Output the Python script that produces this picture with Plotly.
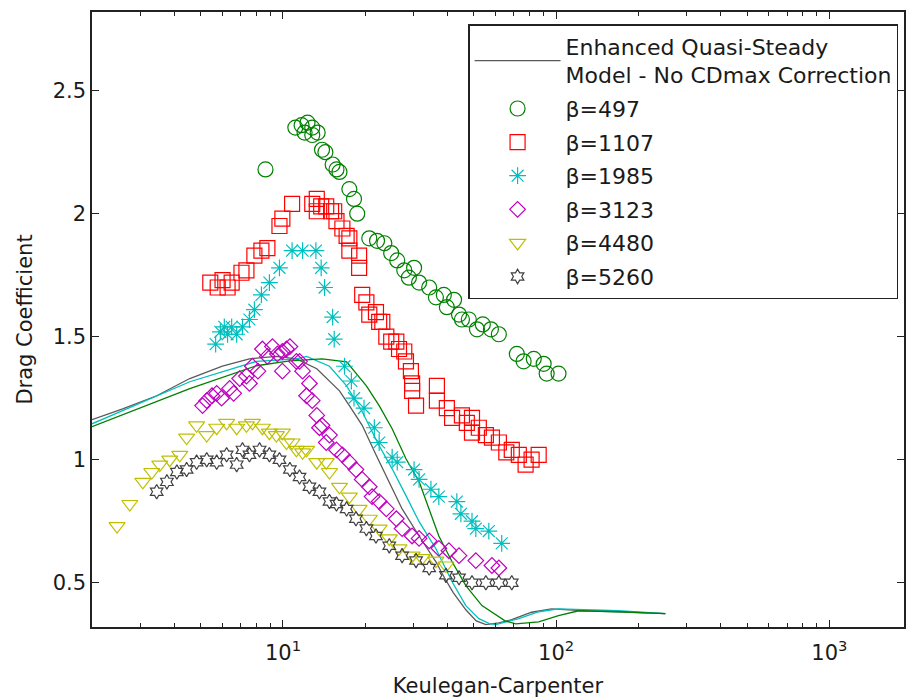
import plotly.graph_objects as go
import math

# ---------------- data ----------------
# Model curves (Enhanced Quasi-Steady model) - three variants
model_gray_x = [2.0, 2.59, 3.45, 4.56, 6.0, 7.54, 9.46, 11.2, 13.3, 14.8, 16.1, 17.5, 19.5, 21.9, 24.5,
                27.3, 31.5, 36.3, 39.0, 42.0, 46.7, 51.0, 55.3, 61.7, 68.8, 81.3, 96.3, 128, 169, 251]
model_gray_y = [1.163, 1.207, 1.26, 1.33, 1.38, 1.41, 1.42, 1.41, 1.37, 1.32, 1.28, 1.22, 1.14, 1.02, 0.91,
                0.80, 0.69, 0.585, 0.52, 0.46, 0.39, 0.345, 0.33, 0.337, 0.35, 0.38, 0.394, 0.386, 0.382, 0.374]

model_cyan_x = [2.0, 4.56, 8.0, 11.2, 12.2, 14.8, 17.1, 19.5, 22.5, 25.1, 28.2, 31.5, 36.3, 41.6, 46.7,
                52.1, 56.7, 60.1, 73.0, 86.3, 102, 169, 251]
model_cyan_y = [1.146, 1.317, 1.40, 1.41, 1.42, 1.38, 1.30, 1.195, 1.057, 0.963, 0.854, 0.748, 0.638, 0.504, 0.407,
                0.354, 0.335, 0.33, 0.354, 0.382, 0.394, 0.386, 0.374]

model_green_x = [2.0, 4.56, 8.0, 10.6, 13.9, 17.1, 20.2, 22.5, 25.1, 28.2, 31.5, 34.3, 37.2, 41.6, 46.7,
                 53.5, 58.2, 65.0, 71.1, 86.3, 102, 121, 169, 251]
model_green_y = [1.134, 1.289, 1.382, 1.402, 1.41, 1.398, 1.30, 1.22, 1.126, 1.004, 0.911, 0.80, 0.69, 0.585, 0.488,
                 0.407, 0.38, 0.345, 0.333, 0.341, 0.366, 0.386, 0.382, 0.374]

# beta = 497
b497_kc = [8.63, 11.1, 11.7, 12.3, 12.8, 13.4, 12.0, 12.8, 13.9, 14.3, 15.2, 15.7, 16.1, 17.5, 18.2, 18.7,
           20.7, 22.1, 23.5, 24.9, 26.2, 27.8, 28.9, 30.2, 31.5, 34.3, 36.3, 38.8, 39.8, 42.3, 44.1, 45.2,
           47.9, 51.3, 53.9, 57.7, 61.7, 71.8, 76.0, 82.8, 90.0, 92.3, 102]
b497_cd = [2.18, 2.35, 2.36, 2.37, 2.35, 2.33, 2.33, 2.32, 2.26, 2.25, 2.20, 2.18, 2.17, 2.10, 2.06, 2.00,
           1.90, 1.89, 1.88, 1.84, 1.81, 1.77, 1.74, 1.78, 1.72, 1.70, 1.66, 1.67, 1.62, 1.65, 1.59, 1.57,
           1.57, 1.53, 1.55, 1.53, 1.51, 1.43, 1.40, 1.41, 1.39, 1.35, 1.35]

# beta = 1107
b1107_kc = [5.42, 5.77, 6.01, 6.27, 6.49, 7.05, 7.35, 7.86, 8.34, 8.77, 9.71, 9.95, 10.8, 12.8, 13.3, 13.3,
            13.8, 14.4, 15.0, 15.4, 15.7, 16.5, 17.1, 17.5, 17.5, 19.0, 19.0, 19.5, 20.2, 20.7, 21.9, 22.5,
            23.1, 23.9, 24.9, 26.0, 26.6, 27.8, 28.2, 29.4, 29.7, 29.7, 30.7, 36.6, 36.6, 39.8, 41.6, 45.2,
            47.1, 49.2, 49.2, 52.1, 55.3, 58.2, 61.7, 65.7, 68.8, 73.0, 77.3, 81.3, 86.3]
b1107_cd = [1.72, 1.70, 1.73, 1.70, 1.72, 1.76, 1.77, 1.83, 1.85, 1.86, 1.95, 1.98, 2.04, 2.04, 2.06, 2.01,
            2.03, 2.03, 2.01, 2.01, 1.97, 1.94, 1.91, 1.90, 1.85, 1.83, 1.78, 1.67, 1.64, 1.59, 1.60, 1.56,
            1.56, 1.50, 1.48, 1.48, 1.45, 1.44, 1.40, 1.36, 1.31, 1.28, 1.22, 1.30, 1.24, 1.21, 1.17, 1.18,
            1.15, 1.17, 1.11, 1.13, 1.10, 1.09, 1.07, 1.03, 1.04, 1.02, 0.98, 1.00, 1.02]

# beta = 1985
b1985_kc = [5.67, 5.9, 6.1, 6.27, 6.49, 6.77, 7.11, 7.54, 7.86, 8.34, 8.92, 9.71, 10.8, 11.8, 13.2, 13.8,
            14.2, 15.2, 15.4, 16.8, 17.8, 18.2, 19.8, 21.6, 22.5, 25.1, 26.2, 30.2, 31.5, 34.8, 37.2, 43.3,
            44.8, 49.2, 50.8, 56.7, 63.2]
b1985_cd = [1.47, 1.52, 1.54, 1.51, 1.54, 1.51, 1.54, 1.57, 1.61, 1.67, 1.72, 1.78, 1.85, 1.85, 1.85, 1.78,
            1.70, 1.58, 1.49, 1.38, 1.32, 1.25, 1.21, 1.13, 1.07, 1.01, 0.99, 0.96, 0.92, 0.88, 0.85, 0.83,
            0.78, 0.75, 0.72, 0.71, 0.66]

# beta = 3123
b3123_kc = [5.08, 5.26, 5.5, 5.72, 5.96, 6.38, 6.6, 6.94, 7.35, 7.54, 7.73, 8.1, 8.41, 8.77, 9.15, 9.54,
            9.95, 9.95, 10.3, 10.6, 11.2, 11.5, 11.8, 12.2, 12.5, 12.8, 13.3, 13.6, 13.9, 14.4, 14.8, 15.7,
            16.5, 17.5, 18.5, 19.5, 20.7, 21.2, 22.5, 23.9, 26.0, 27.3, 29.7, 31.5, 34.3, 37.2, 40.5, 44.1,
            50.8, 58.2, 61.7]
b3123_cd = [1.22, 1.24, 1.26, 1.27, 1.25, 1.29, 1.27, 1.33, 1.34, 1.31, 1.38, 1.36, 1.45, 1.42, 1.46, 1.43,
            1.44, 1.36, 1.45, 1.46, 1.40, 1.40, 1.36, 1.26, 1.31, 1.24, 1.18, 1.13, 1.14, 1.07, 1.10, 1.04,
            1.02, 0.99, 0.96, 0.92, 0.89, 0.85, 0.83, 0.80, 0.76, 0.72, 0.69, 0.68, 0.67, 0.64, 0.63, 0.61,
            0.59, 0.57, 0.56]

# beta = 4480
b4480_kc = [2.47, 2.75, 3.07, 3.31, 3.54, 3.85, 4.19, 4.44, 4.83, 5.26, 5.72, 6.22, 6.77, 7.35, 7.73, 8.41,
            8.92, 9.46, 9.95, 10.3, 10.8, 11.2, 11.8, 12.2, 13.3, 14.4, 14.8, 16.1, 17.5, 19.0, 20.7, 22.5,
            24.5, 26.6, 29.7, 32.3, 36.3, 39.5]
b4480_cd = [0.73, 0.82, 0.91, 0.95, 0.98, 1.00, 1.02, 1.09, 1.14, 1.10, 1.13, 1.15, 1.13, 1.14, 1.15, 1.13,
            1.11, 1.10, 1.11, 1.07, 1.07, 1.04, 1.03, 1.04, 0.99, 0.99, 0.95, 0.89, 0.85, 0.80, 0.76, 0.72,
            0.68, 0.64, 0.61, 0.60, 0.59, 0.57]

# beta = 5260
b5260_kc = [3.45, 3.76, 4.09, 4.44, 4.83, 5.26, 5.72, 6.22, 6.77, 7.11, 7.54, 8.21, 8.92, 9.71, 10.6, 11.5,
            12.5, 13.6, 14.8, 15.7, 17.1, 18.5, 20.2, 21.9, 24.5, 27.3, 30.7, 34.3, 39.5, 44.1, 49.2, 55.3,
            61.7, 68.8]
b5260_cd = [0.87, 0.91, 0.95, 0.96, 0.99, 1.00, 0.99, 1.02, 0.98, 1.04, 1.02, 1.04, 1.02, 1.00, 0.96, 0.93,
            0.89, 0.87, 0.83, 0.82, 0.80, 0.76, 0.72, 0.69, 0.65, 0.61, 0.59, 0.56, 0.53, 0.52, 0.50, 0.50,
            0.50, 0.50]

x_major_ticks = [10, 100, 1000]
x_major_text = ["10<sup>1</sup>", "10<sup>2</sup>", "10<sup>3</sup>"]
y_ticks = [0.5, 1, 1.5, 2, 2.5]
y_tick_text = ["0.5", "1", "1.5", "2", "2.5"]
model_name = "Enhanced Quasi-Steady<br>Model - No CDmax Correction"

# ---------------- figure ----------------
FONT = "DejaVu Sans"
TXT = "#1a1a1a"
fig = go.Figure()

fig.add_trace(go.Scatter(x=model_gray_x, y=model_gray_y, mode="lines", name=model_name,
                         line=dict(color="#5a5a5a", width=1.3), legendgroup="m", showlegend=True))
fig.add_trace(go.Scatter(x=model_cyan_x, y=model_cyan_y, mode="lines", showlegend=False,
                         legendgroup="m", line=dict(color="#00bfbf", width=1.3)))
fig.add_trace(go.Scatter(x=model_green_x, y=model_green_y, mode="lines", showlegend=False,
                         legendgroup="m", line=dict(color="#008000", width=1.3)))

series = [
    ("β=497", b497_kc, b497_cd, "circle-open", "#008000", 15),
    ("β=1107", b1107_kc, b1107_cd, "square-open", "#ff0000", 15),
    ("β=1985", b1985_kc, b1985_cd, "asterisk-open", "#00bfbf", 14),
    ("β=3123", b3123_kc, b3123_cd, "diamond-open", "#bf00bf", 12),
    ("β=4480", b4480_kc, b4480_cd, "triangle-down-open", "#bfbf00", 14),
    ("β=5260", b5260_kc, b5260_cd, "hexagram-open", "#404040", 11),
]
for i, (nm, xs, ys, sym, col, sz) in enumerate(series):
    fig.add_trace(go.Scatter(x=xs, y=ys, mode="markers", name=nm, legendgroup=f"g{i}",
                             marker=dict(symbol=sym, size=sz, color=col,
                                         line=dict(color=col, width=1.2))))

minor_vals = [v * m for m in (1, 10, 100) for v in range(2, 10)]

fig.update_layout(
    width=908, height=700,
    margin=dict(l=92, r=2, t=12, b=73),
    paper_bgcolor="white", plot_bgcolor="white",
    font=dict(family=FONT, size=21, color=TXT),
    showlegend=True,
    legend=dict(x=(469 - 92) / 814, y=(627 - 24) / 615, xanchor="left", yanchor="top",
                bgcolor="white", bordercolor="#222222", borderwidth=1.5,
                font=dict(family=FONT, size=22, color=TXT),
                tracegroupgap=2, itemwidth=86, traceorder="grouped"),
    xaxis=dict(type="log", range=[math.log10(2), math.log10(1876)],
               tickmode="array", tickvals=x_major_ticks, ticktext=x_major_text,
               ticks="inside", ticklen=7, tickwidth=1.2, tickcolor="#222222",
               ticklabelstandoff=6,
               showline=True, linecolor="#222222", linewidth=1.5, mirror="ticks",
               showgrid=False, zeroline=False,
               minor=dict(tickmode="array", tickvals=minor_vals, ticks="inside",
                          ticklen=4, tickwidth=1.2, tickcolor="#222222", showgrid=False),
               title=dict(text="Keulegan-Carpenter", standoff=14, font=dict(size=21))),
    yaxis=dict(range=[0.32, 2.82], tickmode="array", tickvals=y_ticks, ticktext=y_tick_text,
               ticks="inside", ticklen=7, tickwidth=1.2, tickcolor="#222222",
               showline=True, linecolor="#222222", linewidth=1.5, mirror="ticks",
               showgrid=False, zeroline=False,
               title=dict(text="Drag Coefficient", standoff=14, font=dict(size=21))),
)

fig.write_html("out.html")
